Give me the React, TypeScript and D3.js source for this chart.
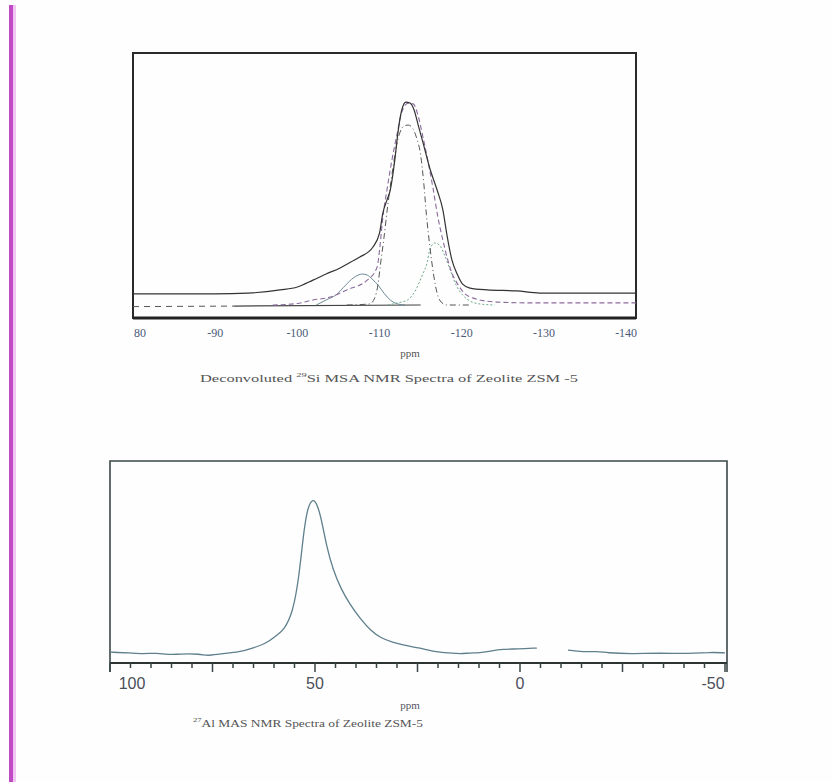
import React from "react";
import * as d3 from "d3";

// ---------- Top chart: Deconvoluted 29Si MAS NMR (ppm, intensity 0-100) ----------
const SI_TICKS = [-80, -90, -100, -110, -120, -130, -140];
const SI_TICK_LABELS = ["80", "-90", "-100", "-110", "-120", "-130", "-140"];

const SI_EXPERIMENTAL: [number, number][] = [
  [-80, 9.1], [-90, 9.1], [-94, 9.4], [-97.9, 10.6], [-100, 11.7], [-101.9, 14.3],
  [-103.5, 16.6], [-105.2, 18.9], [-106.5, 21.1], [-107.6, 23.0], [-109.2, 26.8],
  [-110.0, 32.1], [-110.4, 39.6], [-110.9, 44.5], [-111.3, 48.3], [-111.9, 60.8],
  [-112.2, 69.1], [-112.7, 78.5], [-113.2, 81.5], [-113.7, 81.1], [-114.2, 78.5],
  [-114.7, 72.8], [-115.3, 66.0], [-116.1, 56.6], [-117.0, 48.3], [-117.7, 40.8],
  [-118.2, 31.3], [-118.8, 21.9], [-119.5, 16.2], [-120.1, 12.8], [-121.0, 11.3],
  [-123.1, 10.6], [-126.7, 10.2], [-129.5, 9.4], [-141.2, 9.4],
];

const SI_FIT_SUM: [number, number][] = [
  [-97, 4.9], [-100, 5.5], [-101.9, 6.8], [-104, 7.9], [-106, 10.6], [-108.5, 14.3],
  [-109.7, 19.2], [-110, 25.7], [-110.4, 38.1], [-110.9, 48.3], [-111.5, 59.6],
  [-112.1, 69.0], [-112.7, 77.7], [-113.5, 81.1], [-114.1, 80.8], [-114.7, 76.2],
  [-115.3, 68.0], [-115.9, 59.0], [-116.5, 49.0], [-117.1, 38.0], [-117.7, 29.4],
  [-118.2, 23.0], [-118.8, 17.0], [-119.5, 12.8], [-120.3, 9.4], [-121.4, 7.5],
  [-124.3, 6.0], [-128.7, 5.7], [-141.2, 5.7],
];

const SI_Q4_MAIN: [number, number][] = [
  [-106, 4.9], [-108.8, 5.3], [-109.4, 7.5], [-109.8, 12.5], [-110.1, 20.0],
  [-110.5, 29.4], [-111.0, 42.6], [-111.5, 53.9], [-112.0, 64.1], [-112.5, 70.2],
  [-113.0, 72.5], [-113.5, 72.8], [-114.0, 71.7], [-114.5, 68.0], [-115.0, 61.5],
  [-115.4, 50.2], [-115.7, 38.9], [-116.1, 27.5], [-116.6, 15.8], [-117.0, 9.4],
  [-117.5, 6.0], [-118.2, 4.9], [-121, 4.9],
];

const SI_Q3: [number, number][] = [
  [-102.3, 4.9], [-103.5, 6.8], [-104.7, 8.7], [-105.9, 12.5], [-106.8, 15.1],
  [-107.4, 16.2], [-107.9, 16.6], [-108.5, 16.2], [-109.1, 14.7], [-109.9, 12.1],
  [-110.6, 9.1], [-111.3, 6.8], [-112.2, 5.3], [-113.1, 4.9],
];

const SI_Q4_SECOND: [number, number][] = [
  [-111.0, 4.9], [-112.2, 5.7], [-113.4, 6.8], [-114.4, 10.6], [-115.2, 16.2],
  [-115.8, 21.1], [-116.1, 25.7], [-116.7, 28.3], [-117.3, 27.5], [-117.9, 23.8],
  [-118.6, 18.1], [-119.3, 12.5], [-120.1, 8.7], [-121.0, 6.4], [-122.2, 5.3], [-124, 4.9],
];

const SI_BASE_LEFT: [number, number][] = [[-80, 4.3], [-92.3, 4.5]];
const SI_BASE_MID: [number, number][] = [[-92.3, 4.5], [-115, 4.9]];

// ---------- Bottom chart: 27Al MAS NMR ----------
const AL_LABEL_TICKS = [100, 50, 0, -50];
const AL_LABELS = ["100", "50", "0", "-50"];

const AL_SPECTRUM_A: [number, number][] = [
  [100, 5.4], [95.1, 5.0], [92.0, 4.5], [88.5, 5.0], [85.9, 4.0], [82.9, 4.5],
  [78.0, 4.5], [76.3, 3.5], [73.2, 4.5], [68.3, 5.4], [65.1, 7.4], [61.7, 9.9],
  [59.3, 13.9], [57.6, 16.3], [55.4, 24.8], [53.9, 42.6], [52.9, 62.4], [51.9, 76.5],
  [50.6, 81.7], [49.4, 78.5], [48.3, 70.0], [47.2, 58.0], [45.6, 46.0],
  [43.6, 36.5], [41.5, 29.0], [38.8, 21.5], [36.4, 16.0], [34.0, 12.4], [31.0, 10.2],
  [28.5, 8.9], [24.4, 7.4], [20.2, 5.4], [17.1, 5.0], [14.6, 4.5], [12.2, 5.0],
  [9.8, 5.0], [7.3, 5.9], [4.1, 6.9], [0.7, 6.9], [-4.1, 7.4],
];
const AL_SPECTRUM_B: [number, number][] = [
  [-11.7, 6.4], [-15.4, 5.4], [-18.8, 5.9], [-21.2, 5.0], [-26.8, 4.5], [-34.1, 5.0],
  [-41.5, 4.5], [-46.3, 5.4], [-50, 5.0],
];

export default function App() {
  // top chart scales
  const xs = d3.scaleLinear().domain([-80, -141.2]).range([133, 636]);
  const ys = d3.scaleLinear().domain([0, 100]).range([318, 53]);
  const lineS = d3.line<[number, number]>().x((d) => xs(d[0])).y((d) => ys(d[1])).curve(d3.curveMonotoneX);

  // bottom chart scales
  const xa = d3.scaleLinear().domain([100, -50]).range([110, 725]);
  const ya = d3.scaleLinear().domain([0, 100]).range([663, 461]);
  const lineA = d3.line<[number, number]>().x((d) => xa(d[0])).y((d) => ya(d[1])).curve(d3.curveBasis);

  const alTicks = d3.range(-50, 100.1, 5);

  return (
    <div style={{ position: "absolute", left: 0, top: 0 }}>
      <svg width={832} height={782} style={{ display: "block", background: "#fefefe" }}>
        {/* left magenta edge */}
        <rect x={9} y={5} width={4} height={777} fill="#c04ac4" />
        <rect x={13} y={5} width={3} height={777} fill="#f2c6f2" />

        {/* ---------- top chart ---------- */}
        <g>
          <rect x={133} y={53} width={503} height={265} fill="none" stroke="#2a2a2a" strokeWidth={2} />
          <line x1={133} x2={636} y1={318} y2={318} stroke="#222" strokeWidth={3} />
          <path d={lineS(SI_BASE_LEFT)!} fill="none" stroke="#555" strokeWidth={1} strokeDasharray="6,5" />
          <path d={lineS(SI_BASE_MID)!} fill="none" stroke="#444" strokeWidth={1.2} />
          <path d={lineS(SI_Q3)!} fill="none" stroke="#6c8a94" strokeWidth={1} />
          <path d={lineS(SI_Q4_SECOND)!} fill="none" stroke="#6aa886" strokeWidth={1} strokeDasharray="2,2" />
          <path d={lineS(SI_Q4_MAIN)!} fill="none" stroke="#555" strokeWidth={1} strokeDasharray="6,3,1,3" />
          <path d={lineS(SI_FIT_SUM)!} fill="none" stroke="#8a6a9c" strokeWidth={1.1} strokeDasharray="5,3" />
          <path d={lineS(SI_EXPERIMENTAL)!} fill="none" stroke="#333" strokeWidth={1.2} />
          {SI_TICKS.map((t, i) => (
            <text
              key={t}
              x={i === 0 ? xs(t) + 7 : xs(t)}
              y={337}
              textAnchor="middle"
              fontFamily="Liberation Serif, DejaVu Serif, serif"
              fontSize={12}
              fill="#4a5a78"
            >
              {SI_TICK_LABELS[i]}
            </text>
          ))}
          <text x={410} y={357} textAnchor="middle" fontFamily="Liberation Serif, serif" fontSize={11} fill="#555">
            ppm
          </text>
          <text x={200} y={382} fontFamily="Liberation Serif, serif" fontSize={11} fill="#555" textLength={378} lengthAdjust="spacingAndGlyphs">
            Deconvoluted <tspan fontSize={7} dy={-5}>29</tspan>
            <tspan dy={5}>Si MSA NMR Spectra of Zeolite ZSM -5</tspan>
          </text>
        </g>

        {/* ---------- bottom chart ---------- */}
        <g>
          <polyline points={`110,672 110,461 727,461 727,672`} fill="none" stroke="#3b4848" strokeWidth={1.6} />
          <line x1={110} x2={727} y1={663} y2={663} stroke="#2c3434" strokeWidth={2} />
          {alTicks.map((t) => (
            <line
              key={t}
              x1={xa(t)}
              x2={xa(t)}
              y1={663}
              y2={t % 25 === 0 ? 672 : 668}
              stroke="#3a4444"
              strokeWidth={1.5}
            />
          ))}
          <path d={lineA(AL_SPECTRUM_A)!} fill="none" stroke="#5f7f8c" strokeWidth={1.3} />
          <path d={lineA(AL_SPECTRUM_B)!} fill="none" stroke="#5f7f8c" strokeWidth={1.3} />
          {AL_LABEL_TICKS.map((t, i) => (
            <text
              key={t}
              x={i === 0 ? xa(t) + 22 : i === 3 ? xa(t) - 12 : xa(t)}
              y={689}
              textAnchor="middle"
              fontFamily="Liberation Sans, Arial, sans-serif"
              fontSize={16}
              fill="#4b4f5a"
            >
              {AL_LABELS[i]}
            </text>
          ))}
          <text x={410} y={709} textAnchor="middle" fontFamily="Liberation Serif, serif" fontSize={11} fill="#556">
            ppm
          </text>
          <text x={193} y={727} fontFamily="Liberation Serif, serif" fontSize={11} fill="#555" textLength={230} lengthAdjust="spacingAndGlyphs">
            <tspan fontSize={7} dy={-5}>27</tspan>
            <tspan dy={5}>Al MAS NMR Spectra of Zeolite ZSM-5</tspan>
          </text>
        </g>
      </svg>
    </div>
  );
}
